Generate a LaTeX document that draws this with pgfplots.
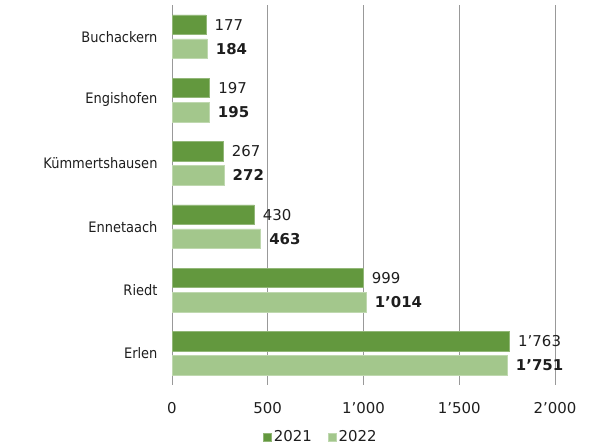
\documentclass[border=0pt]{standalone}
\usepackage{pgfplots}
\pgfplotsset{compat=1.18}
\usepackage{fontspec}
\setmainfont{DejaVu Sans}
\newfontfamily\condfont{DejaVu Sans Condensed}
\definecolor{dg}{RGB}{99,152,62}
\definecolor{lg}{RGB}{163,199,140}
\definecolor{txt}{RGB}{30,30,30}
\begin{document}
\begin{tikzpicture}
\useasboundingbox (0,0) rectangle (589bp,448bp);
\begin{axis}[
  at={(172bp,63bp)}, anchor=south west,
  scale only axis, width=383bp, height=380bp,
  xbar, y dir=reverse,
  xmin=0, xmax=2000, ymin=-0.5, ymax=5.5,
  bar width=0.31,
  ytick={0,...,5},
  yticklabels={Buchackern,Engishofen,Kümmertshausen,Ennetaach,Riedt,Erlen},
  xtick={0,500,1000,1500,2000},
  xmajorgrids, grid style={draw=gray!80, line width=0.7pt},
  axis x line*=bottom, axis y line*=left,
  x axis line style={draw=none},
  y axis line style={draw=gray!80, line width=0.7pt},
  major tick length=0pt,
  tick style={draw=none},
  /pgf/number format/assume math mode=true,
  /pgf/number format/1000 sep={’},
  scaled x ticks=false,
  xticklabel style={font=\fontsize{15}{17}\selectfont, text=txt, yshift=-14bp},
  yticklabel style={font=\condfont\fontsize{14.5}{16}\selectfont, text=txt, xshift=-11bp},
  nodes near coords,
  every node near coord/.append style={font=\fontsize{15}{17}\selectfont, text=txt, anchor=west, xshift=5bp},
  legend style={at={(0.389,-0.137)}, anchor=center, draw=none, legend columns=2, font=\fontsize{15}{17}\selectfont, text=txt,
    /tikz/every even column/.append style={column sep=14bp},
    /tikz/every odd column/.append style={column sep=0bp}},
  legend image code/.code={\fill[#1] (0bp,-4bp) rectangle (8bp,4bp);},
  clip=false,
]
\addplot[fill=dg, draw=dg!70!white, line width=0.6pt, bar shift=-0.19] coordinates {
  (177,0) (197,1) (267,2) (430,3) (999,4) (1763,5)};
\addplot[fill=lg, draw=lg!70!white, line width=0.6pt, bar shift=0.19,
  every node near coord/.append style={font=\fontsize{15}{17}\selectfont\bfseries}] coordinates {
  (184,0) (195,1) (272,2) (463,3) (1014,4) (1751,5)};
\legend{2021,2022}
\end{axis}
\end{tikzpicture}
\end{document}
